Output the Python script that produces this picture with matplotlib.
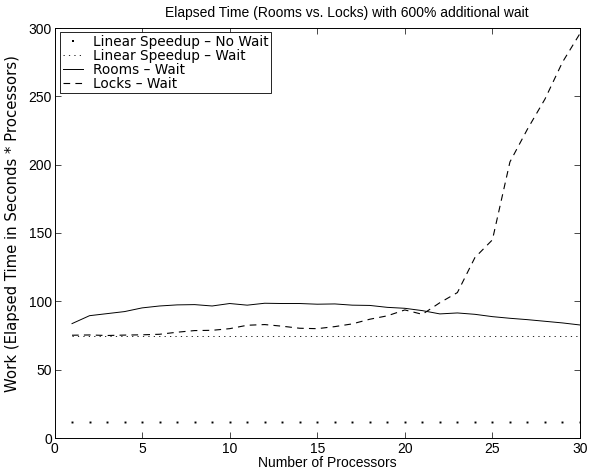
import numpy as np
import matplotlib.pyplot as plt

plt.rcParams['font.family'] = ['Liberation Sans', 'DejaVu Sans']

# data
procs = np.arange(1, 31)
no_wait = [12] * 30
lin_wait = [75] * 30
rooms = [83.7, 89.5, 91.0, 92.5, 95.2, 96.6, 97.4, 97.6, 96.6, 98.4,
         97.2, 98.6, 98.4, 98.4, 97.9, 98.1, 97.2, 97.0, 95.6, 94.9,
         93.2, 90.8, 91.5, 90.5, 88.8, 87.6, 86.6, 85.4, 84.2, 82.7]
locks = [75.2, 75.4, 75.0, 75.3, 75.5, 75.9, 77.4, 78.6, 78.8, 80.0,
         82.5, 83.0, 81.8, 80.3, 80.0, 81.5, 83.5, 86.9, 89.4, 93.7,
         90.5, 99.0, 106.4, 132.0, 145.0, 202.0, 226.0, 248.0, 275.0, 296.0]

W, H = 597, 472
fig = plt.figure(figsize=(W / 100, H / 100), dpi=100)
ax = fig.add_axes([54.5 / W, 1 - 438 / H, 525.5 / W, 410 / H])

ax.plot(procs, no_wait, 'ks', ms=1.4, mew=0, label='Linear Speedup \u2013 No Wait')
ax.plot(procs, lin_wait, color='k', ls=(0, (1.5, 5)), lw=0.6, label='Linear Speedup \u2013 Wait')
ax.plot(procs, rooms, 'k-', lw=0.7, label='Rooms \u2013 Wait')
ax.plot(procs, locks, color='k', ls=(0, (6, 4.7)), lw=0.8, label='Locks \u2013 Wait')

ax.set_xlim(0, 30)
ax.set_ylim(0, 300)
ax.set_xticks(range(0, 31, 5))
ax.set_yticks(range(0, 301, 50))
ax.tick_params(direction='in', top=True, right=True, length=4, width=0.5, labelsize=10)
ax.tick_params(axis='x', pad=3.2)
ax.tick_params(axis='y', pad=1.8)
for s in ax.spines.values():
    s.set_linewidth(0.7)

# texts anchored where the reference has them
fig.text(165 / W, 1 - 16.7 / H, 'Elapsed Time (Rooms vs. Locks) with 600% additional wait',
         fontsize=10, ha='left', va='baseline')
fig.text(258 / W, 1 - 466.7 / H, 'Number of Processors', fontsize=10, ha='left', va='baseline')
fig.text(16.5 / W, 1 - 391.7 / H, 'Work (Elapsed Time in Seconds * Processors)',
         family='DejaVu Sans', fontsize=10.7,
         rotation=90, rotation_mode='anchor', ha='left', va='baseline')

leg = ax.legend(loc='upper left', bbox_to_anchor=(60 / W, 1 - 32 / H), bbox_transform=fig.transFigure,
                prop={'family': 'DejaVu Sans', 'size': 9.8}, handlelength=1.5,
                labelspacing=0.0, borderpad=0.2, handletextpad=0.7, borderaxespad=0,
                fancybox=False, framealpha=1, edgecolor='k', markerscale=1.3)
leg.get_frame().set_linewidth(0.6)

fig.savefig('out.png', dpi=100)
